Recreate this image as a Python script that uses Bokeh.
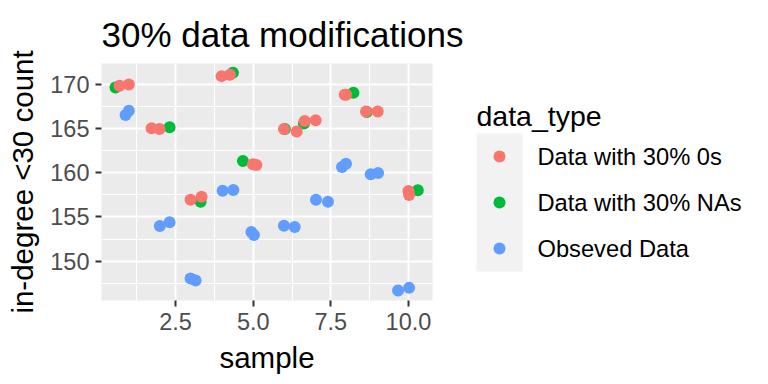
from bokeh.plotting import figure
from bokeh.models import Range1d, FixedTicker, PrintfTickFormatter
from bokeh.layouts import row
from bokeh.core.properties import value
from bokeh.embed import file_html
from bokeh.resources import INLINE

FONT = "Liberation Sans"

# ---- data (jittered sample positions, in-degree counts) ----
zeros_x = [0.695, 0.995, 1.727, 1.984, 2.983, 3.338, 3.982, 4.25, 4.991, 5.10,
           5.99, 6.40, 6.657, 7.012, 7.946, 7.99, 8.633, 9.01, 9.999, 10.02]
zeros_y = [169.85, 170.0, 165.05, 164.97, 156.95, 157.29, 170.95, 171.1, 160.97, 160.89,
           164.97, 164.67, 165.88, 165.96, 168.83, 168.85, 166.94, 166.94, 157.94, 157.49]

nas_x = [0.566, 2.307, 3.306, 4.347, 4.669, 6.02, 6.635, 8.227, 8.66, 10.30]
nas_y = [169.66, 165.17, 156.73, 171.33, 161.34, 164.95, 165.58, 169.06, 166.9, 158.02]

obs_x = [0.889, 0.995, 1.994, 2.307, 2.983, 3.145, 4.015, 4.36, 4.94, 5.023,
         5.99, 6.336, 7.021, 7.408, 7.859, 7.988, 8.784, 9.02, 9.664, 10.019]
obs_y = [166.56, 167.02, 153.97, 154.39, 148.04, 147.81, 157.98, 158.05, 153.29, 152.95,
         154.0, 153.86, 156.95, 156.73, 160.66, 161.04, 159.84, 159.98, 146.68, 146.97]

x_ticks = [2.5, 5.0, 7.5, 10.0]
x_minor = [1.25, 3.75, 6.25, 8.75]
y_ticks = [150, 155, 160, 165, 170]
y_minor = [147.5, 152.5, 157.5, 162.5, 167.5]

series_names = ["Data with 30% 0s", "Data with 30% NAs", "Obseved Data"]
series_colors = ["#F8766D", "#00BA38", "#619CFF"]

TOP, FH, BOTTOM = 63, 237, 76

# ---- main plot ----
p = figure(frame_width=331, frame_height=FH,
           x_range=Range1d(0.115, 10.773), y_range=Range1d(145.54, 172.38),
           output_backend="svg", toolbar_location=None,
           min_border_left=101, min_border_right=36, min_border_top=TOP, min_border_bottom=BOTTOM,
           title="30% data modifications")
p.background_fill_color = "#EBEBEB"
p.border_fill_color = "white"
p.outline_line_color = None

p.title.text_font = FONT
p.title.text_font_size = "35px"
p.title.text_font_style = "normal"
p.title.text_color = "black"
p.title.text_line_height = 1.0
p.title.align = "left"
p.title.offset = 0
p.title.standoff = 20

p.xaxis.ticker = FixedTicker(ticks=x_ticks, minor_ticks=x_minor)
p.yaxis.ticker = FixedTicker(ticks=y_ticks, minor_ticks=y_minor)
p.xaxis.formatter = PrintfTickFormatter(format="%.1f")
p.xaxis.axis_label = "sample"
p.yaxis.axis_label = "in-degree <30 count"

for ax in (p.xaxis, p.yaxis):
    ax.axis_line_color = None
    ax.major_tick_line_color = "#333333"
    ax.major_tick_line_width = 2
    ax.major_tick_in = 0
    ax.major_tick_out = 6
    ax.minor_tick_line_color = None
    ax.major_label_text_font = FONT
    ax.major_label_text_font_size = "23.5px"
    ax.major_label_text_color = "#4D4D4D"
    ax.major_label_standoff = 6
    ax.axis_label_text_font = FONT
    ax.axis_label_text_font_size = "29.5px"
    ax.axis_label_text_font_style = "normal"
    ax.axis_label_text_color = "black"
    ax.axis_label_standoff = 8

for g in (p.xgrid, p.ygrid):
    g.grid_line_color = "white"
    g.grid_line_width = 2
    g.minor_grid_line_color = "white"
    g.minor_grid_line_width = 1

p.scatter(nas_x, nas_y, size=12, color=series_colors[1], line_color=None)
p.scatter(zeros_x, zeros_y, size=12, color=series_colors[0], line_color=None)
p.scatter(obs_x, obs_y, size=12, color=series_colors[2], line_color=None)

# ---- legend panel (coordinates = pixels from the panel's top-left) ----
LW = 292
leg = figure(frame_width=LW, frame_height=FH,
             x_range=Range1d(0, LW), y_range=Range1d(TOP + FH, TOP),
             output_backend="svg", toolbar_location=None,
             min_border_left=0, min_border_right=0,
             min_border_top=TOP, min_border_bottom=BOTTOM)
leg.axis.visible = False
leg.grid.visible = False
leg.outline_line_color = None
leg.background_fill_color = "white"
leg.border_fill_color = "white"

key_y0, key_h = 133, 46
key_ys = [key_y0 + key_h * (i + 0.5) for i in range(len(series_names))]
leg.quad(left=[8], right=[54], top=[key_y0], bottom=[key_y0 + key_h * len(series_names)],
         fill_color="#F2F2F2", line_color=None)
leg.scatter([31] * len(series_names), key_ys, size=12, color=series_colors, line_color=None)
leg.text([69] * len(series_names), key_ys, text=series_names,
         text_font=value(FONT), text_font_size="23.7px", text_baseline="middle",
         text_align="left", text_color="black")
leg.text([8], [115], text=["data_type"], text_font=value(FONT), text_font_size="28.5px",
         text_baseline="alphabetic", text_align="left", text_color="black")

layout = row(p, leg)
open("out.html", "w").write(file_html(layout, INLINE))
